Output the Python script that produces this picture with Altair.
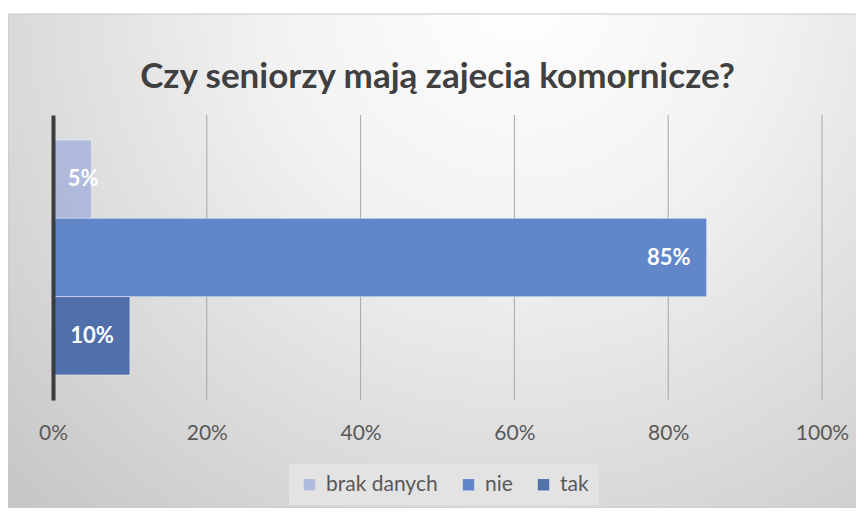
import altair as alt
import pandas as pd

categories = ["brak danych", "nie", "tak"]
values = [0.05, 0.85, 0.10]
colors = ["#adb9dc", "#5a82c8", "#4a6ba7"]
x_ticks = [0, 0.2, 0.4, 0.6, 0.8, 1.0]
title_text = "Czy seniorzy mają zajecia komornicze?"

FONT = "Lato"
W, H = 769, 285

df = pd.DataFrame({"kategoria": categories, "wartosc": values})
ticks_df = pd.DataFrame({"t": x_ticks})

bg = alt.Chart(alt.Data(values=[{}])).mark_rect(
    fill=alt.Gradient(
        gradient="radial",
        stops=[alt.GradientStop(color="#ffffff", offset=0),
               alt.GradientStop(color="#f2f2f2", offset=0.35),
               alt.GradientStop(color="#c6c6c6", offset=1)],
        x1=0.57, y1=0.2, r1=0, x2=0.57, y2=0.2, r2=0.8,
    ),
    stroke="#c8c8c8", strokeWidth=1,
).encode(
    x=alt.value(-45), x2=alt.value(W + 79),
    y=alt.value(-101), y2=alt.value(H + 108),
)

ysc = alt.Scale(domain=categories, paddingInner=0, paddingOuter=0.32)
xsc = alt.Scale(domain=[0, 1])

grid = alt.Chart(ticks_df).transform_filter("datum.t > 0").mark_rule(
    color="#a6a6a6", strokeWidth=1
).encode(
    x=alt.X("t:Q", scale=xsc),
    y=alt.value(0), y2=alt.value(H),
)

base = alt.Chart(df)

bars = base.mark_bar(opacity=0.95, stroke="#ffffff", strokeOpacity=0.45, strokeWidth=1).encode(
    y=alt.Y("kategoria:N", scale=ysc, sort=categories,
            axis=alt.Axis(title=None, labels=False, ticks=False, grid=False,
                          domain=True, domainColor="#3c3c3c", domainWidth=4, zindex=2)),
    x=alt.X("wartosc:Q", scale=xsc,
            axis=alt.Axis(title=None, values=x_ticks, format=".0%", domain=False, ticks=False,
                          grid=False, zindex=2, labelFlush=False,
                          labelFont=FONT, labelFontSize=21, labelColor="#595959",
                          labelPadding=22)),
    color=alt.Color("kategoria:N",
                    scale=alt.Scale(domain=categories, range=colors),
                    legend=alt.Legend(title=None, orient="none", direction="horizontal",
                                      legendX=236, legendY=H + 64,
                                      symbolType="square", symbolSize=130,
                                      symbolStrokeWidth=0, symbolOpacity=0.95,
                                      labelFont=FONT, labelFontSize=21, labelColor="#595959",
                                      labelOffset=6, columnPadding=20,
                                      fillColor="#e3e3e3", padding=10)),
)

labels = base.transform_calculate(
    lx="max(datum.wartosc, 0.08)",
    txt="format(datum.wartosc, '.0%')",
).mark_text(align="right", baseline="middle", dx=-16, font=FONT, fontSize=22,
            fontWeight="bold", color="#ffffff").encode(
    y=alt.Y("kategoria:N", scale=ysc, sort=categories),
    x=alt.X("lx:Q", scale=xsc),
    text="txt:N",
)

chart = alt.layer(bg, grid, bars, labels).properties(
    width=W, height=H,
    autosize=alt.AutoSizeParams(type="none"),
    padding={"left": 45, "top": 107, "right": 34, "bottom": 108},
    title=alt.Title(title_text, font=FONT, fontSize=35, fontWeight="bold",
                    color="#404040", anchor="middle", offset=20, frame="group", dy=101),
).configure_view(stroke=None).configure(background="#ffffff")

chart.save("out.html", embed_options={"renderer": "svg", "actions": False})
